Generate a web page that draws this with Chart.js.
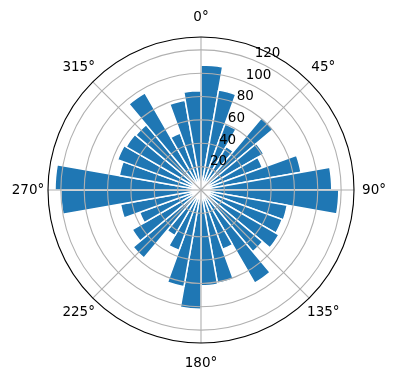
<!DOCTYPE html>
<html>
<head>
<meta charset="utf-8">
<script src="https://cdn.jsdelivr.net/npm/chart.js@4.4.1/dist/chart.umd.min.js"></script>
<style>
  html, body { margin: 0; padding: 0; background: #fff; }
  #wrap { width: 396px; height: 380px; }
</style>
</head>
<body>
<div id="wrap"><canvas id="rose"></canvas></div>
<script>
// start angle of each 10 degree bin, clockwise from north
var binStarts = [0, 10, 20, 30, 40, 50, 60, 70, 80,
                 90, 100, 110, 120, 130, 140, 150, 160, 170,
                 180, 190, 200, 210, 220, 230, 240, 250, 260,
                 270, 280, 290, 300, 310, 320, 330, 340, 350];
var counts = [107, 87, 60, 43, 81, 62, 56, 87, 112,
              118, 75, 74, 77, 69, 92, 54, 81, 82,
              102, 84, 55, 45, 76, 68, 56, 70, 120,
              125, 71, 76, 74, 73, 96, 52, 78, 85];
var angleTicks = [0, 45, 90, 135, 180, 225, 270, 315];
var angleTickLabels = ['0°', '45°', '90°', '135°', '180°', '225°', '270°', '315°'];
var radialTicks = [20, 40, 60, 80, 100, 120];
var radialMax = 131;

// matplotlib-like polar grid, drawn on top of the bars
var polarGrid = {
  id: 'polarGrid',
  afterDatasetsDraw: function (chart) {
    var sc = chart.scales.r, ctx = chart.ctx;
    var cx = sc.xCenter, cy = sc.yCenter;
    var R = sc.getDistanceFromCenterForValue(radialMax);
    ctx.save();
    ctx.lineWidth = 1.1;
    ctx.strokeStyle = '#b0b0b0';
    radialTicks.forEach(function (v) {
      ctx.beginPath();
      ctx.arc(cx, cy, sc.getDistanceFromCenterForValue(v), 0, 2 * Math.PI);
      ctx.stroke();
    });
    angleTicks.forEach(function (deg) {
      var a = deg * Math.PI / 180;
      ctx.beginPath();
      ctx.moveTo(cx, cy);
      ctx.lineTo(cx + R * Math.sin(a), cy - R * Math.cos(a));
      ctx.stroke();
    });
    ctx.strokeStyle = '#000';
    ctx.beginPath();
    ctx.arc(cx, cy, R, 0, 2 * Math.PI);
    ctx.stroke();

    ctx.fillStyle = '#000';
    ctx.font = '13.5px "DejaVu Sans"';
    ctx.textAlign = 'center';
    ctx.textBaseline = 'middle';
    angleTicks.forEach(function (deg, i) {
      var a = deg * Math.PI / 180;
      ctx.fillText(angleTickLabels[i], cx + (R + 20) * Math.sin(a), cy - (R + 20) * Math.cos(a));
    });
    // r labels sit along 22.5 degrees
    ctx.textAlign = 'left';
    ctx.textBaseline = 'bottom';
    var la = 22.5 * Math.PI / 180;
    radialTicks.forEach(function (v) {
      var d = sc.getDistanceFromCenterForValue(v);
      ctx.fillText(String(v), cx + d * Math.sin(la), cy - d * Math.cos(la));
    });
    ctx.restore();
  }
};

var ctx = document.getElementById('rose').getContext('2d');
new Chart(ctx, {
  type: 'polarArea',
  data: {
    labels: binStarts.map(function (d) { return d + '°'; }),
    datasets: [{
      data: counts,
      backgroundColor: '#1f77b4',
      borderColor: '#ffffff',
      borderWidth: 1.5
    }]
  },
  options: {
    responsive: true,
    maintainAspectRatio: false,
    animation: false,
    layout: { padding: { left: 48, right: 42, top: 37, bottom: 37 } },
    plugins: { legend: { display: false }, tooltip: { enabled: false } },
    scales: {
      r: {
        min: 0,
        max: radialMax,
        startAngle: 0,
        ticks: { display: false, stepSize: 20 },
        grid: { display: false },
        angleLines: { display: false },
        pointLabels: { display: false }
      }
    }
  },
  plugins: [polarGrid]
});
</script>
</body>
</html>
